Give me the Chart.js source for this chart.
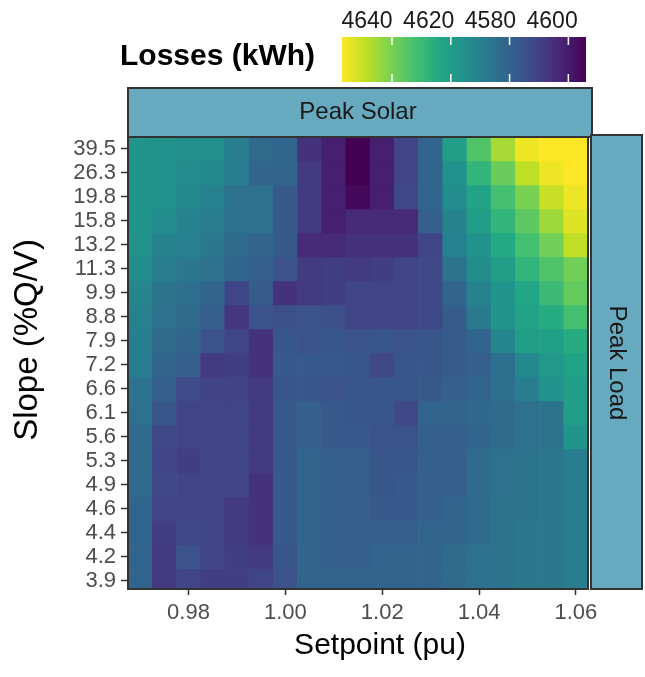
<!DOCTYPE html>
<html>
<head>
<meta charset="utf-8">
<script src="https://cdn.jsdelivr.net/npm/chart.js@4"></script>
<style>
  body { margin: 0; background: #fff; }
  canvas { display: block; }
</style>
</head>
<body>
<canvas id="mapa" width="645" height="677"></canvas>
<script>
// setpoint (pu) columns, left to right
const setpoints = [0.970, 0.975, 0.980, 0.985, 0.990, 0.995, 1.000, 1.005, 1.010, 1.015,
  1.020, 1.025, 1.030, 1.035, 1.040, 1.045, 1.050, 1.055, 1.060];
// slope (%Q/V) rows, top to bottom
const slopes = ['39.5', '26.3', '19.8', '15.8', '13.2', '11.3', '9.9', '8.8', '7.9', '7.2',
  '6.6', '6.1', '5.6', '5.3', '4.9', '4.6', '4.4', '4.2', '3.9'];
const xTicks = [0.98, 1.00, 1.02, 1.04, 1.06];
// colorbar
const legendTicks = [4640, 4620, 4600, 4580];
const legendLabels = ['4640', '4620', '4580', '4600'];

// losses (kWh), one row per slope, same order as slopes
const losses = [
  [4617, 4616, 4615, 4615, 4609, 4603, 4601, 4586, 4581, 4574, 4581, 4591, 4601, 4620, 4634, 4646, 4655, 4657, 4657],
  [4617, 4616, 4614, 4613, 4609, 4601, 4601, 4588, 4581, 4574, 4581, 4591, 4601, 4616, 4628, 4638, 4649, 4655, 4657],
  [4617, 4616, 4613, 4610, 4605, 4605, 4597, 4588, 4581, 4576, 4581, 4592, 4601, 4614, 4622, 4632, 4640, 4650, 4655],
  [4617, 4614, 4611, 4609, 4605, 4605, 4597, 4588, 4581, 4584, 4584, 4584, 4599, 4611, 4620, 4628, 4636, 4645, 4653],
  [4616, 4611, 4610, 4607, 4603, 4601, 4597, 4584, 4584, 4586, 4586, 4586, 4591, 4610, 4616, 4624, 4632, 4639, 4649],
  [4614, 4609, 4607, 4605, 4601, 4599, 4595, 4588, 4589, 4588, 4589, 4591, 4592, 4606, 4614, 4620, 4628, 4634, 4639],
  [4612, 4606, 4604, 4601, 4591, 4598, 4586, 4588, 4589, 4591, 4591, 4591, 4592, 4601, 4611, 4617, 4623, 4630, 4637],
  [4611, 4605, 4603, 4599, 4587, 4595, 4594, 4595, 4594, 4591, 4591, 4591, 4592, 4598, 4608, 4617, 4622, 4625, 4632],
  [4609, 4603, 4601, 4595, 4591, 4586, 4596, 4595, 4596, 4595, 4596, 4595, 4596, 4598, 4601, 4612, 4620, 4621, 4625],
  [4609, 4601, 4599, 4588, 4589, 4586, 4597, 4597, 4597, 4596, 4592, 4596, 4596, 4598, 4599, 4604, 4613, 4618, 4622],
  [4606, 4599, 4593, 4590, 4590, 4588, 4596, 4596, 4595, 4596, 4596, 4596, 4597, 4599, 4601, 4604, 4609, 4616, 4620],
  [4605, 4596, 4591, 4591, 4591, 4588, 4597, 4599, 4597, 4596, 4596, 4592, 4601, 4601, 4602, 4603, 4605, 4606, 4620],
  [4603, 4592, 4591, 4591, 4591, 4588, 4597, 4599, 4597, 4597, 4595, 4595, 4599, 4599, 4601, 4603, 4605, 4606, 4617],
  [4603, 4591, 4589, 4591, 4591, 4588, 4597, 4601, 4599, 4599, 4596, 4596, 4599, 4599, 4603, 4605, 4606, 4607, 4609],
  [4603, 4592, 4591, 4591, 4591, 4586, 4597, 4601, 4599, 4599, 4596, 4597, 4599, 4599, 4603, 4605, 4606, 4607, 4609],
  [4601, 4591, 4591, 4591, 4588, 4586, 4597, 4601, 4599, 4599, 4597, 4597, 4599, 4601, 4603, 4606, 4606, 4607, 4609],
  [4601, 4589, 4592, 4591, 4588, 4586, 4597, 4601, 4599, 4599, 4599, 4599, 4601, 4601, 4603, 4606, 4607, 4607, 4609],
  [4601, 4588, 4595, 4591, 4589, 4588, 4596, 4601, 4599, 4599, 4601, 4601, 4601, 4603, 4605, 4606, 4607, 4607, 4609],
  [4601, 4588, 4591, 4589, 4589, 4591, 4595, 4601, 4601, 4601, 4601, 4601, 4601, 4603, 4605, 4606, 4607, 4607, 4609]
];

// viridis, 0 = purple, 1 = yellow
const viridis = ['#440154', '#482475', '#414487', '#355f8d', '#2a788e', '#21918c',
  '#22a884', '#44bf70', '#7ad151', '#bddf26', '#fde725'];

function hexRgb(h) {
  return [parseInt(h.substr(1, 2), 16), parseInt(h.substr(3, 2), 16), parseInt(h.substr(5, 2), 16)];
}
function cor(t) {
  t = Math.max(0, Math.min(1, t));
  const p = t * (viridis.length - 1);
  const i = Math.min(Math.floor(p), viridis.length - 2);
  const f = p - i;
  const a = hexRgb(viridis[i]), b = hexRgb(viridis[i + 1]);
  const c = a.map((v, k) => Math.round(v + (b[k] - v) * f));
  return 'rgb(' + c.join(',') + ')';
}

const todos = losses.flat();
const lossMin = Math.min(...todos);
const lossMax = Math.max(...todos);
const escala = v => (v - lossMin) / (lossMax - lossMin);

// uma serie de barras flutuantes por linha do mapa
const datasets = losses.map((linha, r) => ({
  data: setpoints.map(x => ({ x: x, y: [r - 0.5, r + 0.5] })),
  backgroundColor: linha.map(v => cor(escala(v))),
  borderWidth: 0,
  borderSkipped: false
}));

const fonte = '"Liberation Sans", Arial, sans-serif';

// moldura, faixas "Peak Solar"/"Peak Load", colorbar e titulos dos eixos
const extras = {
  id: 'extras',
  afterDraw(chart) {
    const ctx = chart.ctx;
    const a = chart.chartArea;
    ctx.save();

    // borda do painel
    ctx.strokeStyle = '#333';
    ctx.lineWidth = 2;
    ctx.strokeRect(a.left, a.top, a.right - a.left, a.bottom - a.top);

    // faixa de cima
    ctx.fillStyle = '#67a9be';
    ctx.fillRect(a.left, 88, a.right - a.left + 4, a.top - 88);
    ctx.strokeRect(a.left, 88, a.right - a.left + 4, a.top - 88);
    ctx.fillStyle = '#1a1a1a';
    ctx.font = '24px ' + fonte;
    ctx.textAlign = 'center';
    ctx.textBaseline = 'middle';
    ctx.fillText('Peak Solar', (a.left + a.right) / 2, (88 + a.top) / 2);

    // faixa da direita
    const rx = a.right + 3, rw = 642 - rx;
    ctx.fillStyle = '#67a9be';
    ctx.fillRect(rx, a.top - 2, rw, a.bottom - a.top + 2);
    ctx.strokeRect(rx, a.top - 2, rw, a.bottom - a.top + 2);
    ctx.save();
    ctx.translate(rx + rw / 2, (a.top + a.bottom) / 2);
    ctx.rotate(Math.PI / 2);
    ctx.fillStyle = '#1a1a1a';
    ctx.fillText('Peak Load', 0, 0);
    ctx.restore();

    // colorbar (amarelo = perdas maiores, a esquerda)
    const bx = 342, bw = 244, by = 37, bh = 45;
    const g = ctx.createLinearGradient(bx, 0, bx + bw, 0);
    viridis.forEach((c, i) => g.addColorStop(1 - i / (viridis.length - 1), c));
    ctx.fillStyle = g;
    ctx.fillRect(bx, by, bw, bh);
    ctx.strokeStyle = '#fff';
    ctx.lineWidth = 1.5;
    legendTicks.forEach(v => {
      const x = bx + bw * (1 - escala(v));
      ctx.beginPath();
      ctx.moveTo(x, by); ctx.lineTo(x, by + 8);
      ctx.moveTo(x, by + bh - 8); ctx.lineTo(x, by + bh);
      ctx.stroke();
    });
    ctx.fillStyle = '#1a1a1a';
    ctx.font = '23px ' + fonte;
    ctx.textBaseline = 'alphabetic';
    legendLabels.forEach((t, i) => ctx.fillText(t, 367 + i * 61.7, 28));

    ctx.fillStyle = '#000';
    ctx.font = 'bold 30px ' + fonte;
    ctx.textAlign = 'left';
    ctx.fillText('Losses (kWh)', 120, 65);

    // titulos dos eixos
    ctx.font = '30px ' + fonte;
    ctx.textAlign = 'center';
    ctx.textBaseline = 'middle';
    ctx.fillText('Setpoint (pu)', 380, 646);
    ctx.save();
    ctx.translate(28, 340);
    ctx.rotate(-Math.PI / 2);
    ctx.font = '33px ' + fonte;
    ctx.fillText('Slope (%Q/V)', 0, 0);
    ctx.restore();

    ctx.restore();
  }
};

new Chart(document.getElementById('mapa'), {
  type: 'bar',
  data: { datasets: datasets },
  plugins: [extras],
  options: {
    responsive: false,
    animation: false,
    grouped: false,
    barPercentage: 1,
    categoryPercentage: 1,
    layout: { padding: { top: 137, right: 57, left: 0, bottom: 0 } },
    plugins: { legend: { display: false }, tooltip: { enabled: false } },
    scales: {
      x: {
        type: 'linear',
        min: 0.9675,
        max: 1.0625,
        offset: false,
        afterBuildTicks: s => { s.ticks = xTicks.map(v => ({ value: v })); },
        afterFit: s => { s.height = 88; },
        border: { display: false },
        grid: { offset: false, drawOnChartArea: false, tickLength: 6, tickColor: '#333', tickWidth: 1.5 },
        ticks: {
          autoSkip: false, maxRotation: 0, padding: 5,
          color: '#4d4d4d', font: { family: fonte, size: 22 },
          callback: v => v.toFixed(2)
        }
      },
      y: {
        type: 'linear',
        reverse: true,
        min: -0.5,
        max: 18.35,
        afterBuildTicks: s => { s.ticks = slopes.map((t, i) => ({ value: i })); },
        afterFit: s => { s.width = 128; },
        border: { display: false },
        grid: { drawOnChartArea: false, tickLength: 7, tickColor: '#333', tickWidth: 1.5 },
        ticks: {
          autoSkip: false, padding: 5,
          color: '#4d4d4d', font: { family: fonte, size: 22 },
          callback: v => slopes[v]
        }
      }
    }
  }
});
</script>
</body>
</html>
